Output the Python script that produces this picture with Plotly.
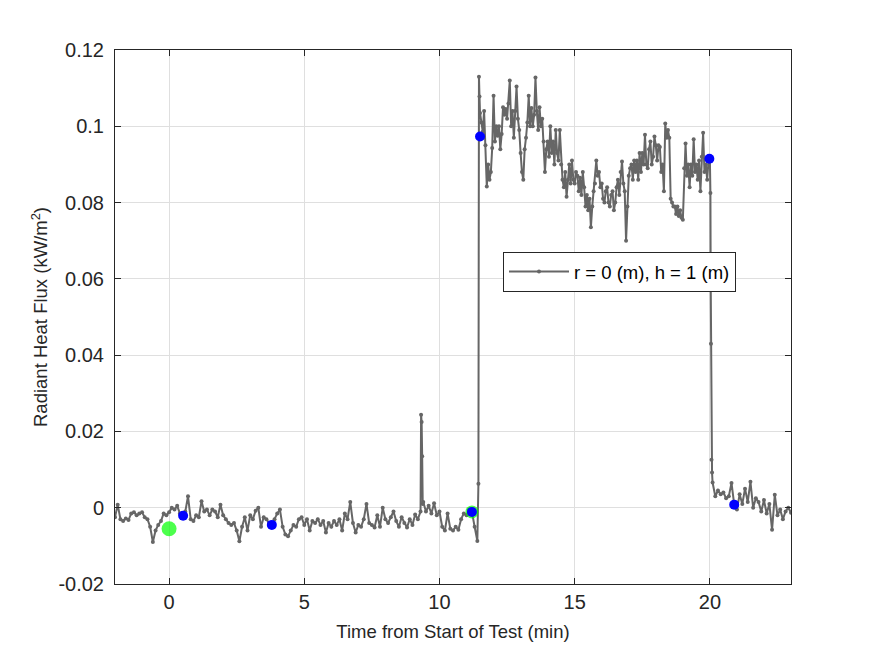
import numpy as np
import plotly.graph_objects as go

# ---- data (time in minutes, radiant heat flux in kW/m^2) ----
base_a_start, base_a_step = -2.0, 0.1
base_a = [
    -0.0025, 0.0008, -0.0030, -0.0035, -0.0028, -0.0032, -0.0015, -0.0012, -0.0020, -0.0015,
    -0.0012, -0.0025, -0.0030, -0.0050, -0.0090, -0.0060, -0.0045, -0.0035, -0.0015, -0.0020,
    -0.0012, 0.0000, -0.0005, 0.0005, -0.0015, -0.0025, -0.0010, 0.0030, -0.0030, -0.0035,
    -0.0020, -0.0025, 0.0017, -0.0010, -0.0005, -0.0020, -0.0005, -0.0010, -0.0025, 0.0008,
    -0.0020, -0.0030, -0.0040, -0.0045, -0.0040, -0.0060, -0.0088, -0.0050, -0.0025, -0.0060,
    -0.0020, -0.0030, -0.0008, 0.0000, -0.0050, -0.0025, -0.0030, -0.0040, -0.0045, -0.0030,
    -0.0015, -0.0005, -0.0050, -0.0070, -0.0075, -0.0060, -0.0045, -0.0050, -0.0030, -0.0025,
    -0.0045, -0.0030, -0.0060, -0.0035, -0.0040, -0.0030, -0.0045, -0.0035, -0.0065, -0.0040,
    -0.0050, -0.0035, -0.0045, -0.0030, -0.0060, -0.0015, -0.0030, 0.0015, -0.0040, -0.0065,
    -0.0045, -0.0050, -0.0030, 0.0010, -0.0040, -0.0045, -0.0052, -0.0020, -0.0050, 0.0000,
    -0.0030, -0.0040, -0.0025, -0.0010, -0.0035, -0.0050, -0.0025, -0.0040, -0.0052, -0.0030,
    -0.0045, -0.0018, -0.0030, -0.0010,
]
spike_t = [9.32, 9.34, 9.36, 9.38]
spike_v = [0.0244, 0.0225, 0.0135, 0.0010]
base_b_start, base_b_step = 9.4, 0.1
base_b = [
    0.0015, -0.0010, 0.0005, -0.0015, 0.0012, -0.0020, -0.0010, -0.0050, -0.0060, -0.0015,
    -0.0055, -0.0060, -0.0050, -0.0058, -0.0030, -0.0015, -0.0020, -0.0005, -0.0011, -0.0050,
    -0.0087,
]
jump_t = [11.44, 11.46, 11.48]
jump_v = [0.0063, 0.1130, 0.1078]
high_start, high_step = 11.5, 0.05
high = [
    0.1035, 0.1010, 0.0986, 0.1040, 0.0950, 0.0842, 0.0900, 0.0860, 0.0880, 0.0943,
    0.1080, 0.0960, 0.1000, 0.0975, 0.1000, 0.0940, 0.0980, 0.1050, 0.1030, 0.1045,
    0.1020, 0.1060, 0.1120, 0.1000, 0.1040, 0.0970, 0.1040, 0.1104, 0.1020, 0.0990,
    0.0930, 0.0880, 0.0860, 0.0940, 0.0970, 0.1010, 0.1080, 0.1000, 0.1048, 0.1000,
    0.1030, 0.1128, 0.1040, 0.0990, 0.1050, 0.1000, 0.1020, 0.0960, 0.0880, 0.0940,
    0.0960, 0.0920, 0.1000, 0.0930, 0.0960, 0.0900, 0.0990, 0.0930, 0.0910, 0.0990,
    0.0900, 0.0860, 0.0840, 0.0880, 0.0815, 0.0860, 0.0900, 0.0850, 0.0910, 0.0860,
    0.0850, 0.0880, 0.0870, 0.0830, 0.0865, 0.0820, 0.0880, 0.0840, 0.0790, 0.0820,
    0.0780, 0.0810, 0.0735, 0.0790, 0.0830, 0.0850, 0.0910, 0.0870, 0.0880, 0.0840,
    0.0850, 0.0810, 0.0800, 0.0830, 0.0840, 0.0800, 0.0790, 0.0820, 0.0830, 0.0780,
    0.0800, 0.0840, 0.0860, 0.0820, 0.0880, 0.0908, 0.0850, 0.0830, 0.0700, 0.0790,
    0.0870, 0.0890, 0.0900, 0.0860, 0.0910, 0.0880, 0.0910, 0.0860, 0.0930, 0.0880,
    0.0930, 0.0900, 0.0978, 0.0900, 0.0890, 0.0940, 0.0960, 0.0900, 0.0920, 0.0973,
    0.0950, 0.0910, 0.0950, 0.0946, 0.0880, 0.0900, 0.0830, 0.1007, 0.0970, 0.0990,
    0.0970, 0.0810, 0.0800, 0.0790, 0.0790, 0.0770, 0.0790, 0.0765, 0.0780, 0.0760,
    0.0755, 0.0890, 0.0955, 0.0870, 0.0900, 0.0840, 0.0900, 0.0870, 0.0966, 0.0880,
    0.0900, 0.0860, 0.0910, 0.0830, 0.0920, 0.0983, 0.0880, 0.0900, 0.0860, 0.0910,
    0.0915,
]
drop_t = [20.02, 20.03, 20.04, 20.06, 20.08]
drop_v = [0.0825, 0.0600, 0.0430, 0.0126, 0.0092]
tail_start, tail_step = 20.1, 0.1
tail = [
    0.0066, 0.0030, 0.0045, 0.0035, 0.0040, 0.0025, 0.0030, 0.0065, 0.0008, -0.0005,
    0.0035, 0.0010, 0.0050, 0.0015, 0.0068, 0.0000, 0.0025, 0.0015, -0.0010, 0.0020,
    -0.0015, 0.0010, -0.0058, 0.0034, -0.0020, -0.0005, -0.0030, -0.0010, 0.0000, -0.0013,
]

blue_t = [0.52, 3.8, 11.2, 11.5, 19.98, 20.9]
blue_v = [-0.0021, -0.0045, -0.0011, 0.0973, 0.0915, 0.0008]
green_t = [0.0, 11.2]
green_v = [-0.0055, -0.0011]
green_size = [15, 13]

y_ticks = [-0.02, 0, 0.02, 0.04, 0.06, 0.08, 0.1, 0.12]
y_ticktext = ["-0.02", "0", "0.02", "0.04", "0.06", "0.08", "0.1", "0.12"]
x_ticks = [0, 5, 10, 15, 20]


def grid(start, step, n):
    return list(np.round(start + step * np.arange(n), 3))


t = (grid(base_a_start, base_a_step, len(base_a)) + spike_t
     + grid(base_b_start, base_b_step, len(base_b)) + jump_t
     + grid(high_start, high_step, len(high)) + drop_t
     + grid(tail_start, tail_step, len(tail)))
v = base_a + spike_v + base_b + jump_v + high + drop_v + tail

FONT = "Arial, 'Liberation Sans', Helvetica, sans-serif"
DARK = "rgb(38,38,38)"
GRAY = "rgb(102,102,102)"

fig = go.Figure()
fig.add_trace(go.Scatter(
    x=t, y=v, mode="lines+markers", name="r = 0 (m), h = 1 (m)",
    line=dict(color=GRAY, width=2),
    marker=dict(color=GRAY, size=4),
))
fig.add_trace(go.Scatter(
    x=green_t, y=green_v, mode="markers", showlegend=False,
    marker=dict(color="#00ff00", size=green_size, line=dict(width=0)),
))
fig.add_trace(go.Scatter(
    x=blue_t, y=blue_v, mode="markers", showlegend=False,
    marker=dict(color="#0000ff", size=10, line=dict(width=0)),
))

fig.update_layout(
    width=875, height=656,
    margin=dict(l=115, r=84, t=50, b=72, autoexpand=False),
    paper_bgcolor="white", plot_bgcolor="white",
    font=dict(family=FONT, color=DARK, size=18),
    showlegend=True,
    legend=dict(
        x=(503 - 115) / 676, y=(584 - 252) / 534, xanchor="left", yanchor="top",
        bgcolor="white", bordercolor=DARK, borderwidth=1,
        font=dict(size=18.5, color="black"), itemwidth=60,
        tracegroupgap=0,
    ),
)
fig.update_xaxes(
    range=[-2, 23], tickvals=x_ticks, ticks="inside", ticklen=6, tickcolor=DARK,
    showline=True, linecolor=DARK, linewidth=1, mirror="ticks",
    showgrid=True, gridcolor="rgb(223,223,223)", gridwidth=1, zeroline=False,
    tickfont=dict(size=20, color=DARK),
    title=dict(text="Time from Start of Test (min)", font=dict(size=18.5, color=DARK), standoff=13),
)
fig.update_yaxes(
    range=[-0.02, 0.12], tickvals=y_ticks, ticktext=y_ticktext, ticks="inside", ticklen=6,
    tickcolor=DARK, showline=True, linecolor=DARK, linewidth=1, mirror="ticks",
    showgrid=True, gridcolor="rgb(223,223,223)", gridwidth=1, zeroline=False,
    tickfont=dict(size=20, color=DARK), ticklabelstandoff=6,
    title=dict(text="Radiant Heat Flux (kW/m<sup>2</sup>)", font=dict(size=18.5, color=DARK), standoff=5),
)

fig.write_html("out.html")
